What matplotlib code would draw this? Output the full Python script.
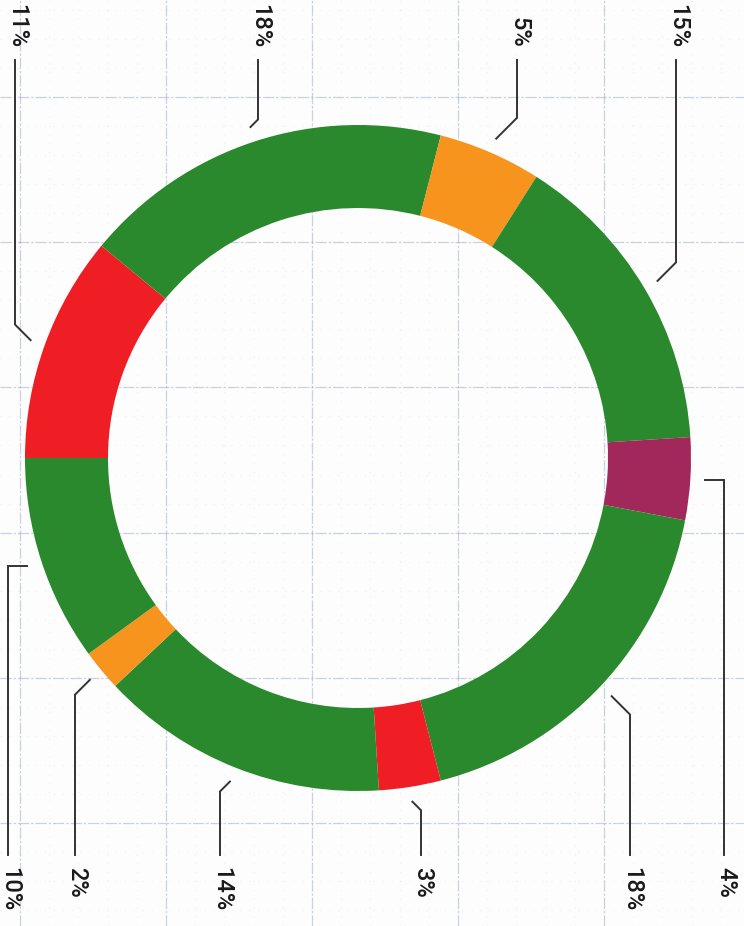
import numpy as np
import matplotlib
matplotlib.use("Agg")
import matplotlib.pyplot as plt

# ---- data ----
values = [11, 18, 5, 15, 4, 18, 3, 14, 2, 10]
labels = ["11%", "18%", "5%", "15%", "4%", "18%", "3%", "14%", "2%", "10%"]
colors = ["#EE1E24", "#2A892D", "#F7941E", "#2A892D", "#A2285C",
          "#2A892D", "#EE1E24", "#2A892D", "#F7941E", "#2A892D"]

# ---- layout (pixel positions of the label columns) ----
label_x = [15, 258, 517, 676, 724, 630, 421, 220, 75, 8]
elbow_flat = [False, False, False, False, True, False, False, False, False, True]

W, H = 744, 926
cx, cy = 358, H - 458
R_OUT, WIDTH = 333, 83
R_ANCHOR = 348

fig = plt.figure(figsize=(W / 100, H / 100), dpi=100)
fig.patch.set_facecolor("#fdfdfd")
ax = fig.add_axes([0, 0, 1, 1])
ax.set_facecolor("#fdfdfd")

# grid paper background
grid_col = (0.60, 0.66, 0.80)
major_x = np.arange(20, W, 146)
major_y = np.arange(97, H, 145.2)
for gx in major_x:
    ax.axvline(gx, color=grid_col, lw=0.9, alpha=0.5, ls=(0, (9, 1.5, 2, 1.5)), zorder=0)
for gy in major_y:
    ax.axhline(H - gy, color=grid_col, lw=0.9, alpha=0.5, ls=(0, (9, 1.5, 2, 1.5)), zorder=0)
for gx in np.arange(20 - 146, W, 146 / 5):
    ax.axvline(gx, color=grid_col, lw=0.8, alpha=0.15, ls=(0, (1, 7)), zorder=0)
for gy in np.arange(97 - 145.2, H, 145.2 / 5):
    ax.axhline(H - gy, color=grid_col, lw=0.8, alpha=0.15, ls=(0, (1, 7)), zorder=0)

wedges, _ = ax.pie(values, colors=colors, startangle=180, counterclock=False,
                   radius=R_OUT, center=(cx, cy),
                   wedgeprops=dict(width=WIDTH, linewidth=0))

ax.set_xlim(0, W)
ax.set_ylim(0, H)
ax.set_aspect("equal")
ax.axis("off")

line_col = "#333333"
top_end = H - 60
bot_end = H - 855
for w, lab, lx, flat in zip(wedges, labels, label_x, elbow_flat):
    mid = np.deg2rad((w.theta1 + w.theta2) / 2)
    ax_ = cx + R_ANCHOR * np.cos(mid)
    ay_ = cy + R_ANCHOR * np.sin(mid)
    top = np.sin(mid) > 0
    dx = abs(lx - ax_)
    if flat:
        ey = ay_
    else:
        ey = ay_ + dx if top else ay_ - dx
    yend = top_end if top else bot_end
    ax.plot([ax_, lx, lx], [ay_, ey, yend], color=line_col, lw=1.4,
            solid_joinstyle="miter", zorder=3)
    tx = max(lx + 2, 10)
    if top:
        ax.text(tx, H - 48, lab, rotation=270, rotation_mode="anchor",
                ha="right", va="center", fontsize=17, color="#1a1a1a",
                family="Roboto", fontweight="medium")
    else:
        ax.text(tx, H - 867, lab, rotation=270, rotation_mode="anchor",
                ha="left", va="center", fontsize=17, color="#1a1a1a",
                family="Roboto", fontweight="medium")

fig.savefig("out.png", dpi=100, facecolor=fig.get_facecolor())
